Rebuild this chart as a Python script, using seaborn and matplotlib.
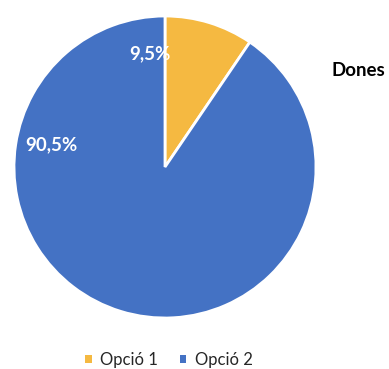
import matplotlib
matplotlib.use("Agg")
import matplotlib.pyplot as plt
import seaborn as sns
from matplotlib.patches import Patch

sns.set_theme(style="white")
plt.rcParams["font.family"] = ["Lato", "DejaVu Sans"]

categories = ["Opció 1", "Opció 2"]
values = [9.5, 90.5]
colors = ["#F5B941", "#4472C4"]
title = "Dones"

fig = plt.figure(figsize=(3.89, 3.69), dpi=100)
ax = fig.add_axes([14 / 389, (369 - 318) / 369, 302 / 389, 302 / 369])

wedges, _ = ax.pie(values, colors=colors, startangle=90, counterclock=False,
                   wedgeprops=dict(edgecolor="white", linewidth=2))
ax.set_xlim(-1, 1)
ax.set_ylim(-1, 1)
ax.set_aspect("equal")

label_pos = [(-0.10, 0.75), (-0.75, 0.15)]
for v, (x, y) in zip(values, label_pos):
    ax.text(x, y, f"{v:.1f}%".replace(".", ","), ha="center", va="center",
            color="white", fontsize=13.5, fontweight="bold")

fig.text(358 / 389, 1 - 70 / 369, title, ha="center", va="center",
         fontsize=13.5, fontweight="bold", color="black")

handles = [Patch(facecolor=c, edgecolor="none") for c in colors]
fig.legend(handles, categories, loc="center", bbox_to_anchor=(169 / 389, 1 - 360 / 369),
           ncol=2, frameon=False, fontsize=12, handlelength=0.4, handleheight=0.4,
           handletextpad=0.5, columnspacing=1.3, borderpad=0)

fig.savefig("out.png", dpi=100, facecolor="white")
